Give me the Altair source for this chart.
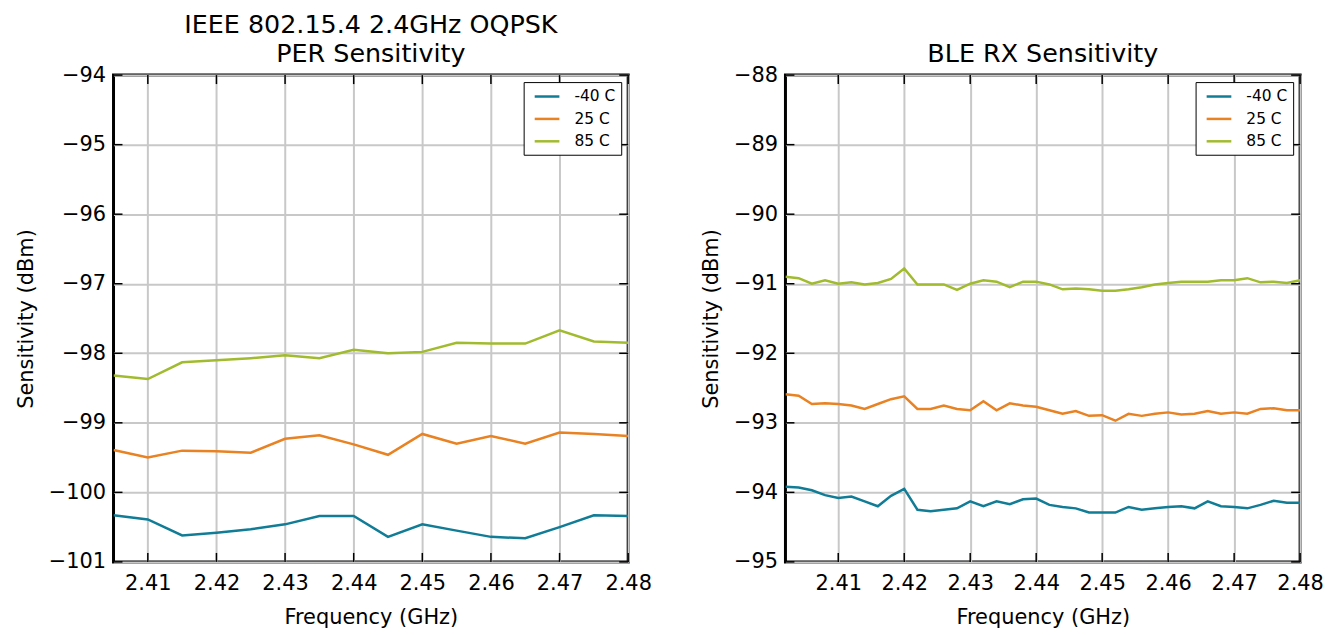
import altair as alt
import pandas as pd

# ---------------- data ----------------
temps = ["-40 C", "25 C", "85 C"]
colors = ["#117c96", "#e88223", "#a1bb2e"]

freq_802 = [2.405, 2.410, 2.415, 2.420, 2.425, 2.430, 2.435, 2.440,
            2.445, 2.450, 2.455, 2.460, 2.465, 2.470, 2.475, 2.480]
per_m40 = [-100.33, -100.39, -100.62, -100.58, -100.53, -100.46, -100.34, -100.34,
           -100.64, -100.46, -100.55, -100.64, -100.66, -100.50, -100.33, -100.34]
per_25 = [-99.39, -99.50, -99.40, -99.41, -99.43, -99.23, -99.18, -99.31,
          -99.46, -99.16, -99.30, -99.19, -99.30, -99.14, -99.16, -99.19]
per_85 = [-98.32, -98.37, -98.13, -98.10, -98.07, -98.03, -98.07, -97.95,
          -98.00, -97.98, -97.85, -97.86, -97.86, -97.67, -97.83, -97.85]

freq_ble = [2.402, 2.404, 2.406, 2.408, 2.410, 2.412, 2.414, 2.416, 2.418, 2.420,
            2.422, 2.424, 2.426, 2.428, 2.430, 2.432, 2.434, 2.436, 2.438, 2.440,
            2.442, 2.444, 2.446, 2.448, 2.450, 2.452, 2.454, 2.456, 2.458, 2.460,
            2.462, 2.464, 2.466, 2.468, 2.470, 2.472, 2.474, 2.476, 2.478, 2.480]
ble_m40 = [-93.92, -93.93, -93.97, -94.04, -94.08, -94.06, -94.13, -94.20, -94.05, -93.95,
           -94.25, -94.27, -94.25, -94.23, -94.13, -94.20, -94.13, -94.17, -94.10, -94.09,
           -94.18, -94.21, -94.23, -94.29, -94.29, -94.29, -94.21, -94.25, -94.23, -94.21,
           -94.20, -94.23, -94.13, -94.20, -94.21, -94.23, -94.18, -94.12, -94.15, -94.15]
ble_25 = [-92.59, -92.61, -92.73, -92.72, -92.73, -92.75, -92.80, -92.73, -92.66, -92.62,
          -92.80, -92.80, -92.75, -92.80, -92.82, -92.69, -92.82, -92.72, -92.75, -92.77,
          -92.82, -92.87, -92.83, -92.90, -92.89, -92.97, -92.87, -92.90, -92.87, -92.85,
          -92.88, -92.87, -92.83, -92.87, -92.85, -92.87, -92.80, -92.79, -92.82, -92.82]
ble_85 = [-90.90, -90.92, -91.00, -90.95, -91.00, -90.98, -91.01, -90.99, -90.93, -90.78,
          -91.01, -91.01, -91.01, -91.09, -91.00, -90.95, -90.97, -91.05, -90.97, -90.97,
          -91.01, -91.08, -91.07, -91.08, -91.10, -91.10, -91.08, -91.05, -91.01, -90.99,
          -90.97, -90.97, -90.97, -90.95, -90.95, -90.92, -90.98, -90.97, -90.99, -90.95]

x_ticks = [2.41, 2.42, 2.43, 2.44, 2.45, 2.46, 2.47, 2.48]
y_ticks_802 = [-101, -100, -99, -98, -97, -96, -95, -94]
y_ticks_ble = [-95, -94, -93, -92, -91, -90, -89, -88]

W, H = 517, 489
FONT = "DejaVu Sans"
TICK = 9


def long_df(freqs, series):
    rows = []
    for t, vals in zip(temps, series):
        for f, v in zip(freqs, vals):
            rows.append({"freq": f, "sens": v, "temp": t})
    return pd.DataFrame(rows)


def panel(df, title, xdom, ydom, yticks):
    xaxis = alt.Axis(values=x_ticks, format=".2f", title="Frequency (GHz)",
                     labelFlush=False, labelOverlap=False,
                     labelPadding=11, titlePadding=13)
    yaxis = alt.Axis(values=yticks, format="d", title="Sensitivity (dBm)",
                     labelFlush=False, labelOverlap=False,
                     labelPadding=8, titlePadding=12)
    xs = alt.Scale(domain=xdom, nice=False, zero=False)
    ys = alt.Scale(domain=ydom, nice=False, zero=False)
    lines = alt.Chart(df).mark_line(strokeWidth=2.5, clip=True).encode(
        x=alt.X("freq:Q", scale=xs, axis=xaxis),
        y=alt.Y("sens:Q", scale=ys, axis=yaxis),
        color=alt.Color("temp:N",
                        scale=alt.Scale(domain=temps, range=colors),
                        sort=temps,
                        legend=alt.Legend(title=None, orient="top-right", offset=7,
                                          strokeColor="black", fillColor="white",
                                          padding=5, rowPadding=4.5,
                                          symbolType="M-1.55,0H1.55", symbolSize=256,
                                          symbolOffset=9, symbolStrokeWidth=2.5,
                                          labelOffset=18,
                                          labelFontSize=15.5, labelFont=FONT,
                                          labelColor="black")),
    )
    xt = pd.DataFrame({"freq": x_ticks})
    yt = pd.DataFrame({"sens": yticks})
    rule = dict(color="black", strokeWidth=1.5)
    bottom = alt.Chart(xt).mark_rule(**rule).encode(
        x=alt.X("freq:Q", scale=xs, axis=xaxis), y=alt.value(H), y2=alt.value(H - TICK))
    top = alt.Chart(xt).mark_rule(**rule).encode(
        x=alt.X("freq:Q", scale=xs, axis=xaxis), y=alt.value(0), y2=alt.value(TICK))
    left = alt.Chart(yt).mark_rule(**rule).encode(
        y=alt.Y("sens:Q", scale=ys, axis=yaxis), x=alt.value(0), x2=alt.value(TICK))
    right = alt.Chart(yt).mark_rule(**rule).encode(
        y=alt.Y("sens:Q", scale=ys, axis=yaxis), x=alt.value(W), x2=alt.value(W - TICK))
    return alt.layer(lines, bottom, top, left, right).properties(
        width=W, height=H,
        title=alt.TitleParams(text=title, fontSize=25.5, font=FONT, fontWeight="normal",
                              color="black", anchor="middle", frame="group",
                              offset=-3, lineHeight=29),
    )


left_chart = panel(long_df(freq_802, [per_m40, per_25, per_85]),
                   ["IEEE 802.15.4 2.4GHz OQPSK", "PER Sensitivity"],
                   [2.405, 2.48], [-101, -94], y_ticks_802)
right_chart = panel(long_df(freq_ble, [ble_m40, ble_25, ble_85]),
                    ["BLE RX Sensitivity"],
                    [2.402, 2.48], [-95, -88], y_ticks_ble)

chart = alt.hconcat(left_chart, right_chart, spacing=46).resolve_scale(
    color="independent"
).properties(
    padding={"left": 5, "top": 2, "right": 0, "bottom": 0},
).configure(
    font=FONT,
    background="white",
).configure_view(
    stroke="black", strokeWidth=3,
).configure_axis(
    labelFont=FONT, labelFontSize=21, labelColor="black",
    titleFont=FONT, titleFontSize=21, titleFontWeight="normal", titleColor="black",
    ticks=False, domain=False,
    grid=True, gridColor="#c8c8c8", gridWidth=2,
)

chart.save("out.html", embed_options={"renderer": "svg", "actions": False})
